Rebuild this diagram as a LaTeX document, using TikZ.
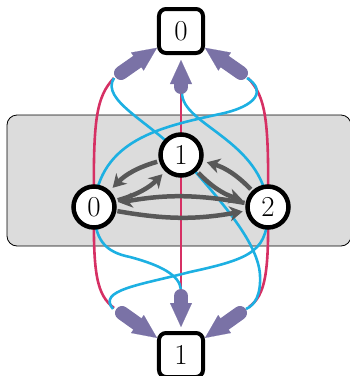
\documentclass[tikz,border=0pt]{standalone}
\usepackage{fontspec}
\usetikzlibrary{arrows.meta}
\pgfdeclarelayer{bg}
\pgfdeclarelayer{lines}
\pgfsetlayers{bg,lines,main}
\definecolor{cred}{RGB}{214,48,100}
\definecolor{cblue}{RGB}{29,176,226}
\definecolor{cpurp}{RGB}{122,114,166}
\definecolor{cgray}{RGB}{88,88,88}
\definecolor{cbox}{RGB}{220,220,220}
\begin{document}
\begin{tikzpicture}[x=1bp,y=1bp,
  state/.style={circle, draw=black, line width=4.5bp, fill=white, minimum size=41bp, inner sep=0pt, font=\fontsize{29}{34}\selectfont},
  outbox/.style={rectangle, rounded corners=7bp, draw=black, line width=4bp, fill=white, minimum size=44bp, inner sep=0pt, font=\fontsize{29}{34}\selectfont},
  trans/.style={draw=cgray, line width=4.5bp, -{Stealth[length=13bp,width=15bp,inset=4bp]}, shorten >=4bp, shorten <=2bp},
  transb/.style={draw=cgray, line width=4.5bp, -{Stealth[length=13bp,width=15bp,inset=4bp]}, shorten >=3bp, shorten <=1bp},
  emit/.style={draw=cpurp, line width=14bp, line cap=round, -{Triangle[length=24bp,width=22bp,line width=0.1bp]}},
  rline/.style={draw=cred, line width=2.6bp},
  bline/.style={draw=cblue, line width=2.6bp}]
\useasboundingbox (0,0) rectangle (350,-376);
% nodes
\node[outbox] (T) at (181,-31) {0};
\node[outbox] (B) at (181,-355) {1};
\node[state] (n0) at (94,-207) {0};
\node[state] (n1) at (181,-155) {1};
\node[state] (n2) at (268,-207) {2};
% emission tails
\coordinate (tl) at (121,-73);
\coordinate (tm) at (181,-87);
\coordinate (tr) at (241,-73);
\coordinate (bl) at (122,-313);
\coordinate (bm) at (181,-296);
\coordinate (br) at (240,-313);
\begin{pgfonlayer}{bg}
\draw[fill=cbox, draw=black, line width=0.8bp, rounded corners=10bp] (7,-115) rectangle (351,-246);
\end{pgfonlayer}
\begin{pgfonlayer}{lines}
% red
\draw[rline] ([shift={(-7,-5)}]tl) .. controls (96,-97) and (93,-120) .. (n0.center)
  .. controls (93,-275) and (97,-295) .. ([shift={(-8,5)}]bl);
\draw[rline] (tm) -- (n1.center) -- (bm);
\draw[rline] ([shift={(7,-5)}]tr) .. controls (266,-97) and (269,-120) .. (n2.center)
  .. controls (269,-275) and (265,-295) .. ([shift={(9,6)}]br);
% blue
\draw[bline] ([shift={(-7,-5)}]tl) .. controls (100,-100) and (150,-122) .. (n1.center)
  .. controls (215,-195) and (258,-240) .. (260,-275)
  .. controls (261,-295) and (255,-305) .. ([shift={(6,4)}]br);
\draw[bline] ([shift={(1,-6)}]tm) .. controls (182,-125) and (262,-140) .. (n2.center)
  .. controls (268,-250) and (255,-258) .. (190,-272)
  .. controls (140,-285) and (97,-290) .. ([shift={(-9,4)}]bl);
\draw[bline] ([shift={(6,-5)}]tr) .. controls (266,-90) and (258,-106) .. (220,-114)
  .. controls (160,-127) and (100,-140) .. (n0.center)
  .. controls (94,-240) and (105,-252) .. (130,-257)
  .. controls (160,-265) and (180,-275) .. ([shift={(0,6)}]bm);
% transitions
\draw[trans] (n0) to[bend right=15] (n1);
\draw[trans] (n1) to[bend right=15] (n0);
\draw[trans] (n1) to[bend right=15] (n2);
\draw[trans] (n2) to[bend right=15] (n1);
\draw[transb] (n0) to[bend right=10] (n2);
\draw[transb] (n2) to[bend right=10] (n0);
% emissions
\draw[emit] (tl) -- (T);
\draw[emit, shorten >=5bp] (tm) -- (T);
\draw[emit] (tr) -- (T);
\draw[emit] (bl) -- (B);
\draw[emit, shorten >=4bp] (bm) -- (B);
\draw[emit] (br) -- (B);
\end{pgfonlayer}
\end{tikzpicture}
\end{document}
